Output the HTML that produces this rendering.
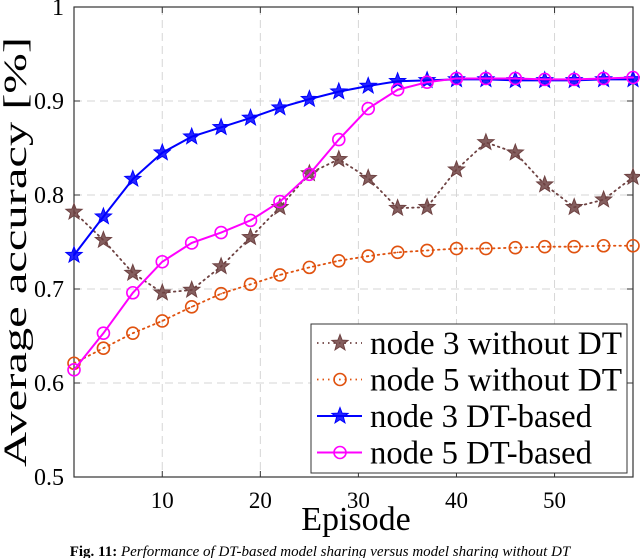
<!DOCTYPE html>
<html><head><meta charset="utf-8"><style>
body{margin:0;background:#fff;width:640px;height:558px;overflow:hidden}
svg{display:block;font-family:"Liberation Serif",serif}
</style></head><body>
<svg id="chart" width="640" height="558" viewBox="0 0 640 558" xmlns="http://www.w3.org/2000/svg">
<g id="grid"></g>
<g id="axes"></g>
<g id="series"></g>
<text transform="translate(26,252) rotate(-90)" text-anchor="middle" font-size="33" textLength="430" lengthAdjust="spacingAndGlyphs">Average accuracy [%]</text>
<text x="356" y="530" text-anchor="middle" font-size="34">Episode</text>
<text x="320" y="556" text-anchor="middle" font-size="15"><tspan font-weight="bold">Fig. 11:</tspan> <tspan font-style="italic">Performance of DT-based model sharing versus model sharing without DT</tspan></text>
<g id="legend"></g>
</svg>
<script>
const episodes=[1,4,7,10,13,16,19,22,25,28,31,34,37,40,43,46,49,52,55,58];
const node3Without=[0.782,0.752,0.717,0.696,0.699,0.724,0.755,0.787,0.823,0.838,0.818,0.786,0.787,0.827,0.856,0.845,0.811,0.787,0.795,0.819];
const node5Without=[0.621,0.637,0.653,0.666,0.681,0.695,0.705,0.715,0.723,0.730,0.735,0.739,0.741,0.743,0.743,0.744,0.745,0.745,0.746,0.746];
const node3DT=[0.736,0.777,0.817,0.845,0.862,0.872,0.882,0.893,0.902,0.910,0.916,0.921,0.922,0.923,0.923,0.922,0.922,0.922,0.923,0.923];
const node5DT=[0.614,0.653,0.696,0.729,0.749,0.760,0.773,0.793,0.822,0.859,0.892,0.912,0.920,0.924,0.924,0.924,0.923,0.923,0.924,0.925];
const xTicks=[10,20,30,40,50];
const yTicks=[0.5,0.6,0.7,0.8,0.9,1];
const yTickLabels=["0.5","0.6","0.7","0.8","0.9","1"];
const legendLabels=["node 3 without DT","node 5 without DT","node 3 DT-based","node 5 DT-based"];

const X0=74,X1=633,Y0=477,Y1=7,xmin=1,xmax=58,ymin=0.5,ymax=1;
const sx=v=>X0+(v-xmin)/(xmax-xmin)*(X1-X0);
const sy=v=>Y0-(v-ymin)/(ymax-ymin)*(Y0-Y1);
const NS="http://www.w3.org/2000/svg";
function mk(tag,parent,attrs){const e=document.createElementNS(NS,tag);for(const k in attrs)e.setAttribute(k,attrs[k]);parent.appendChild(e);return e;}
const grid=document.getElementById('grid'),axes=document.getElementById('axes'),series=document.getElementById('series'),legend=document.getElementById('legend');

xTicks.forEach(t=>{
  const g=mk('line',grid,{x1:sx(t),x2:sx(t),y1:Y1,y2:Y0,stroke:'#d6d6d6','stroke-dasharray':'8,5','stroke-width':1});
  
  
  const tk=mk('line',axes,{x1:sx(t),x2:sx(t),y1:Y0,y2:Y0-6,stroke:'#333'});
  
  
  const tk2=mk('line',axes,{x1:sx(t),x2:sx(t),y1:Y1,y2:Y1+6,stroke:'#333'});
  
  
  const l=mk('text',axes,{x:sx(t),y:Y0+31,'text-anchor':'middle','font-size':23});
  l.textContent=t;
  
  
});
yTicks.forEach((t,i)=>{
  if(t>ymin&&t<ymax){
    const g=mk('line',grid,{x1:X0,x2:X1,y1:sy(t),y2:sy(t),stroke:'#d6d6d6','stroke-dasharray':'8,5','stroke-width':1});
    
    
  }
  const tk=mk('line',axes,{x1:X0,x2:X0+6,y1:sy(t),y2:sy(t),stroke:'#333'});
  
  
  const tk2=mk('line',axes,{x1:X1,x2:X1-6,y1:sy(t),y2:sy(t),stroke:'#333'});
  
  
  const l=mk('text',axes,{x:X0-10,y:sy(t)+8,'text-anchor':'end','font-size':24});
  l.textContent=yTickLabels[i];
  
  
});
const box=mk('rect',axes,{x:X0,y:Y1,width:X1-X0,height:Y0-Y1,fill:'none',stroke:'#333','stroke-width':1.2});



function star(cx,cy,r){let p=[];for(let i=0;i<10;i++){const a=-Math.PI/2+i*Math.PI/5;const rr=i%2?r*0.42:r;p.push((cx+rr*Math.cos(a)).toFixed(1)+','+(cy+rr*Math.sin(a)).toFixed(1));}return p.join(' ');}
function marker(parent,type,cx,cy,color){
  if(type==='star'){return mk('polygon',parent,{points:star(cx,cy,8.5),fill:color,'fill-opacity':0.85,stroke:color,'stroke-width':1});}
  const g=mk('g',parent,{});
  mk('circle',g,{cx:cx,cy:cy,r:6,fill:'none',stroke:color,'stroke-width':1.6});
  mk('circle',g,{cx:cx,cy:cy,r:0.8,fill:color});
  return g;
}
const defs=[
 {vals:node3Without,color:'#6e4242',dash:'1.5,4',w:1.8,m:'star',name:'node3-without-dt'},
 {vals:node5Without,color:'#e0520f',dash:'1.5,4',w:1.8,m:'circle',name:'node5-without-dt'},
 {vals:node3DT,color:'#0000ff',dash:'',w:2,m:'star',name:'node3-dt-based'},
 {vals:node5DT,color:'#ff00ff',dash:'',w:2,m:'circle',name:'node5-dt-based'}
];
defs.forEach(d=>{
  const g=mk('g',series,{});
  
  
  const pts=episodes.map((e,i)=>sx(e)+','+sy(d.vals[i])).join(' ');
  const pl=mk('polyline',g,{points:pts,fill:'none',stroke:d.color,'stroke-width':d.w,'stroke-dasharray':d.dash,'stroke-linecap':'round'});
  
  
  episodes.forEach((e,i)=>{
    const mm=marker(g,d.m,sx(e),sy(d.vals[i]),d.color);
    
    
  });
});
const lb=mk('rect',legend,{x:311,y:324,width:316,height:149,fill:'#fff',stroke:'#333','stroke-width':1});


const legendWidths=[252,252,222,222];
defs.forEach((d,i)=>{
  const y=343+i*36.5;
  const g=mk('g',legend,{});
  
  
  mk('line',g,{x1:317,x2:362,y1:y,y2:y,stroke:d.color,'stroke-width':d.w,'stroke-dasharray':d.dash});
  marker(g,d.m,340,y,d.color);
  const t=mk('text',g,{x:370,y:y+11,'font-size':33,textLength:legendWidths[i],lengthAdjust:'spacingAndGlyphs'});
  t.textContent=legendLabels[i];
});
</script>
</body></html>
